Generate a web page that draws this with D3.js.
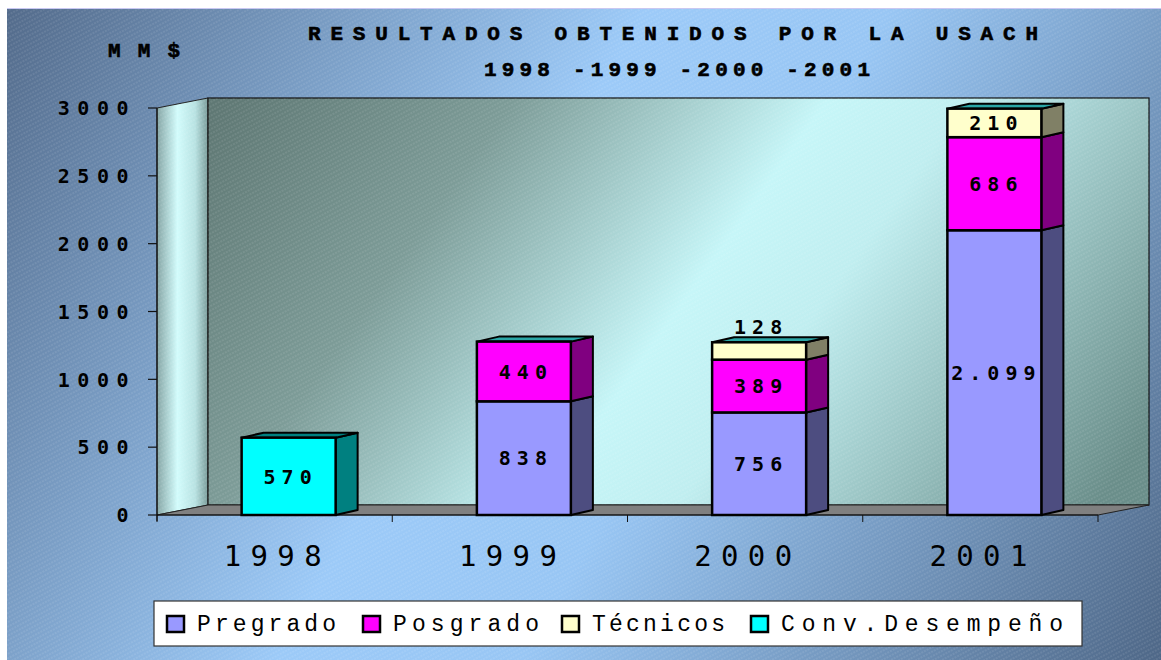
<!DOCTYPE html>
<html>
<head>
<meta charset="utf-8">
<script src="https://cdn.jsdelivr.net/npm/d3@7"></script>
<style>
  body { margin: 0; background: #fff; }
  svg { display: block; }
</style>
</head>
<body>
<div id="chart"></div>
<script>
// data
const years = ["1998", "1999", "2000", "2001"];
const pregrado = [0, 838, 756, 2099];
const posgrado = [0, 440, 389, 686];
const tecnicos = [0, 0, 128, 210];
const convDesempeno = [570, 0, 0, 0];
const yTicks = [0, 500, 1000, 1500, 2000, 2500, 3000];
const seriesNames = ["Pregrado", "Posgrado", "Técnicos", "Conv.Desempeño"];

const width = 1161, height = 660;

const svg = d3.select("#chart").append("svg")
    .attr("width", width)
    .attr("height", height);

const defs = svg.append("defs");

// page background gradient (dark corners, light diagonal)
const bgGrad = defs.append("linearGradient")
    .attr("id", "bgGrad")
    .attr("gradientUnits", "userSpaceOnUse")
    .attr("x1", 7).attr("y1", 8).attr("x2", 1161).attr("y2", 660);
bgGrad.append("stop").attr("offset", "0%").attr("stop-color", "#536b8b");
bgGrad.append("stop").attr("offset", "42%").attr("stop-color", "#9ccaf8");
bgGrad.append("stop").attr("offset", "58%").attr("stop-color", "#98c6f4");
bgGrad.append("stop").attr("offset", "100%").attr("stop-color", "#4e6787");

// fine diagonal hatch
const hatch = defs.append("pattern")
    .attr("id", "hatch")
    .attr("patternUnits", "userSpaceOnUse")
    .attr("width", 6).attr("height", 4)
    .attr("patternTransform", "rotate(-28)");
hatch.append("line")
    .attr("x1", 0).attr("y1", 1).attr("x2", 6).attr("y2", 1)
    .attr("stroke", "#ffffff")
    .attr("stroke-opacity", 0.22)
    .attr("stroke-width", 0.8)
    .attr("stroke-dasharray", "2,1");

// back wall gradient
const wallGrad = defs.append("linearGradient")
    .attr("id", "wallGrad")
    .attr("gradientUnits", "userSpaceOnUse")
    .attr("x1", 230).attr("y1", 90).attr("x2", 1000).attr("y2", 640);
wallGrad.append("stop").attr("offset", "0%").attr("stop-color", "#5f7874");
wallGrad.append("stop").attr("offset", "25%").attr("stop-color", "#7d9c98");
wallGrad.append("stop").attr("offset", "52%").attr("stop-color", "#c6f6f8");
wallGrad.append("stop").attr("offset", "64%").attr("stop-color", "#c0eef0");
wallGrad.append("stop").attr("offset", "100%").attr("stop-color", "#6a8e8a");

// side wall gradient
const sideGrad = defs.append("linearGradient")
    .attr("id", "sideGrad")
    .attr("x1", "0%").attr("y1", "0%").attr("x2", "100%").attr("y2", "0%");
sideGrad.append("stop").attr("offset", "0%").attr("stop-color", "#86a6a6");
sideGrad.append("stop").attr("offset", "40%").attr("stop-color", "#d2fcfc");
sideGrad.append("stop").attr("offset", "75%").attr("stop-color", "#b8e2e2");
sideGrad.append("stop").attr("offset", "100%").attr("stop-color", "#7a9c9a");

// background
svg.append("rect")
    .attr("x", 7).attr("y", 8)
    .attr("width", width - 7).attr("height", height - 8)
    .attr("fill", "url(#bgGrad)");
svg.append("rect")
    .attr("x", 7).attr("y", 8)
    .attr("width", width - 7).attr("height", height - 8)
    .attr("fill", "url(#hatch)");
svg.append("line")
    .attr("x1", 7).attr("x2", width).attr("y1", 8.5).attr("y2", 8.5)
    .attr("stroke", "#c8c8f2").attr("stroke-width", 1);

// scales
const x = d3.scaleBand()
    .domain(years)
    .range([157, 1098]);

const y = d3.scaleLinear()
    .domain([0, 3000])
    .range([515, 108]);

// 3D offsets
const wallDx = 51, wallDy = -10;
const barDx = 22, barDy = -5;
const barShift = 14;
const barW = 94;

const x0 = x.range()[0], x1 = x.range()[1];
const y0 = y(0), yTop = y(3000);

const g = svg.append("g");

// left wall
g.append("path")
    .attr("d", `M${x0},${yTop} L${x0 + wallDx},${yTop + wallDy} L${x0 + wallDx},${y0 + wallDy} L${x0},${y0} Z`)
    .attr("fill", "url(#sideGrad)")
    .attr("stroke", "#222")
    .attr("stroke-width", 1);
g.append("path")
    .attr("d", `M${x0},${yTop} L${x0 + wallDx},${yTop + wallDy} L${x0 + wallDx},${y0 + wallDy} L${x0},${y0} Z`)
    .attr("fill", "url(#hatch)");

// back wall
g.append("rect")
    .attr("x", x0 + wallDx).attr("y", yTop + wallDy)
    .attr("width", x1 - x0).attr("height", y0 - yTop)
    .attr("fill", "url(#wallGrad)")
    .attr("stroke", "#111")
    .attr("stroke-width", 1.2);
g.append("rect")
    .attr("x", x0 + wallDx).attr("y", yTop + wallDy)
    .attr("width", x1 - x0).attr("height", y0 - yTop)
    .attr("fill", "url(#hatch)");

// floor
g.append("path")
    .attr("d", `M${x0},${y0} L${x0 + wallDx},${y0 + wallDy} L${x1 + wallDx},${y0 + wallDy} L${x1},${y0} Z`)
    .attr("fill", "#808080")
    .attr("stroke", "#222")
    .attr("stroke-width", 1);

// value axis
g.append("line")
    .attr("x1", x0).attr("x2", x0)
    .attr("y1", yTop).attr("y2", y0 + 6)
    .attr("stroke", "#111").attr("stroke-width", 1.2);

g.selectAll(".ytick")
    .data(yTicks)
    .enter()
    .append("line")
    .attr("class", "ytick")
    .attr("x1", x0 - 9).attr("x2", x0)
    .attr("y1", d => y(d)).attr("y2", d => y(d))
    .attr("stroke", "#111").attr("stroke-width", 1.2);

g.selectAll(".ylabel")
    .data(yTicks)
    .enter()
    .append("text")
    .attr("class", "ylabel")
    .attr("x", 136)
    .attr("y", d => y(d))
    .attr("dy", "0.36em")
    .attr("text-anchor", "end")
    .style("font-family", "'DejaVu Sans Mono', monospace")
    .style("font-weight", "bold")
    .style("font-size", "20px")
    .style("letter-spacing", "7.5px")
    .text(d => String(d));

// category axis
g.append("line")
    .attr("x1", x0).attr("x2", x1)
    .attr("y1", y0).attr("y2", y0)
    .attr("stroke", "#111").attr("stroke-width", 1.2);

g.selectAll(".xtick")
    .data(years.concat(["end"]))
    .enter()
    .append("line")
    .attr("class", "xtick")
    .attr("x1", (d, i) => x0 + i * x.bandwidth())
    .attr("x2", (d, i) => x0 + i * x.bandwidth())
    .attr("y1", y0).attr("y2", y0 + 7)
    .attr("stroke", "#111").attr("stroke-width", 1);

g.selectAll(".xlabel")
    .data(years)
    .enter()
    .append("text")
    .attr("class", "xlabel")
    .attr("x", d => x(d) + x.bandwidth() / 2 - 2)
    .attr("y", 566)
    .attr("text-anchor", "middle")
    .attr("textLength", 98)
    .attr("lengthAdjust", "spacing")
    .style("font-family", "'DejaVu Sans Mono', monospace")
    .style("font-size", "29px")
    .text(d => d);

// stacked bars
const series = [
    { name: "Pregrado", values: pregrado, front: "#9999ff", side: "#4d4d80", top: "#2aa6a6" },
    { name: "Posgrado", values: posgrado, front: "#ff00ff", side: "#800080", top: "#2aa6a6" },
    { name: "Técnicos", values: tecnicos, front: "#ffffcc", side: "#808066", top: "#2aa6a6" },
    { name: "Conv.Desempeño", values: convDesempeno, front: "#00ffff", side: "#008080", top: "#008080" }
];

const segments = [];
years.forEach((yr, i) => {
    let base = 0;
    series.forEach(s => {
        const v = s.values[i];
        if (v > 0) {
            segments.push({ year: yr, s: s, v: v, lo: base, hi: base + v });
            base += v;
        }
    });
    segments[segments.length - 1].isTop = true;
});

const fmt = v => v >= 1000 ? d3.format(",")(v).replace(",", ".") : String(v);

const barX = d => x(d.year) + x.bandwidth() / 2 + barShift - barW / 2;

const bars = g.selectAll(".seg")
    .data(segments)
    .enter()
    .append("g")
    .attr("class", "seg");

// side face
bars.append("path")
    .attr("d", d => {
        const bx = barX(d) + barW, t = y(d.hi), b = y(d.lo);
        return `M${bx},${b} L${bx + barDx},${b + barDy} L${bx + barDx},${t + barDy} L${bx},${t} Z`;
    })
    .attr("fill", d => d.s.side)
    .attr("stroke", "#000")
    .attr("stroke-width", 2)
    .attr("stroke-linejoin", "round");

// top face
bars.filter(d => d.isTop)
    .append("path")
    .attr("d", d => {
        const bx = barX(d), t = y(d.hi);
        return `M${bx},${t} L${bx + barDx},${t + barDy} L${bx + barW + barDx},${t + barDy} L${bx + barW},${t} Z`;
    })
    .attr("fill", d => d.s.top)
    .attr("stroke", "#000")
    .attr("stroke-width", 2)
    .attr("stroke-linejoin", "round");

// front face
bars.append("rect")
    .attr("x", d => barX(d))
    .attr("y", d => y(d.hi))
    .attr("width", barW)
    .attr("height", d => y(d.lo) - y(d.hi))
    .attr("fill", d => d.s.front)
    .attr("stroke", "#000")
    .attr("stroke-width", 2.5);

// value labels
bars.append("text")
    .attr("x", d => barX(d) + barW / 2 + 2)
    .attr("y", d => {
        const h = y(d.lo) - y(d.hi);
        return h < 25 ? y(d.hi) - 15 : (y(d.lo) + y(d.hi)) / 2;
    })
    .attr("dy", "0.36em")
    .attr("text-anchor", "middle")
    .style("font-family", "'DejaVu Sans Mono', monospace")
    .style("font-weight", "bold")
    .style("font-size", "20px")
    .style("letter-spacing", "6px")
    .text(d => fmt(d.v));

// title
const titleStyle = sel => sel
    .style("font-family", "'Liberation Mono', 'Courier New', monospace")
    .style("font-weight", "bold")
    .style("font-size", "21px")
    .attr("stroke", "#000")
    .attr("stroke-width", 0.6)
    .attr("lengthAdjust", "spacing");

svg.append("text")
    .attr("x", 673).attr("y", 40)
    .attr("text-anchor", "middle")
    .attr("textLength", 730)
    .call(titleStyle)
    .text("RESULTADOS OBTENIDOS POR LA USACH");

svg.append("text")
    .attr("x", 677).attr("y", 76)
    .attr("text-anchor", "middle")
    .attr("textLength", 386)
    .call(titleStyle)
    .text("1998 -1999 -2000 -2001");

svg.append("text")
    .attr("x", 108).attr("y", 57)
    .attr("textLength", 72)
    .call(titleStyle)
    .text("MM$");

// legend
const legend = svg.append("g");
legend.append("rect")
    .attr("x", 154).attr("y", 601)
    .attr("width", 928).attr("height", 45)
    .attr("fill", "#ffffff")
    .attr("stroke", "#333")
    .attr("stroke-width", 1.2);

const legendX = [167, 363, 562, 751];
const legendTextW = [139, 146, 133, 282];

const items = legend.selectAll(".item")
    .data(series)
    .enter()
    .append("g")
    .attr("class", "item")
    .attr("transform", (d, i) => `translate(${legendX[i]},0)`);

items.append("rect")
    .attr("x", 0).attr("y", 616)
    .attr("width", 17).attr("height", 16)
    .attr("fill", d => d.front)
    .attr("stroke", "#000")
    .attr("stroke-width", 2.5);

items.append("text")
    .attr("x", 30).attr("y", 631)
    .attr("textLength", (d, i) => legendTextW[i])
    .attr("lengthAdjust", "spacing")
    .style("font-family", "'Liberation Mono', 'Courier New', monospace")
    .style("font-size", "23px")
    .text((d, i) => seriesNames[i]);
</script>
</body>
</html>
